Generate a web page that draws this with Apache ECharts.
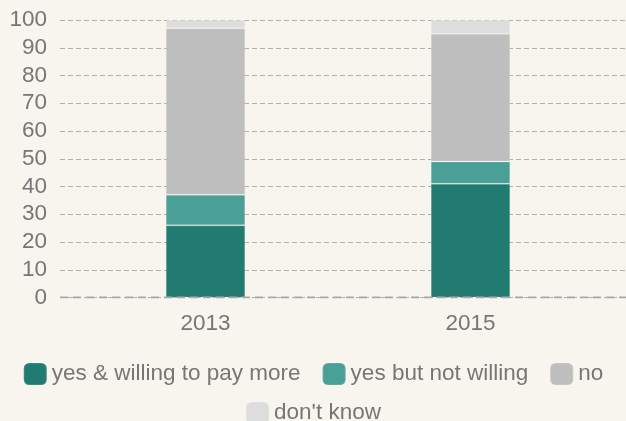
<!DOCTYPE html>
<html><head><meta charset="utf-8">
<script src="https://cdn.jsdelivr.net/npm/echarts@6/dist/echarts.min.js"></script>
<style>html,body{margin:0;padding:0;background:#f7f5ee}#c{width:626px;height:421px}</style>
</head><body><div id="c"></div>
<script>
const categories = ['2013', '2015'];
const yesWilling = [26, 41];
const yesNotWilling = [11, 8];
const no = [60, 46];
const dontKnow = [3, 5];
const seriesNames = ['yes & willing to pay more', 'yes but not willing', 'no', "don't know"];
const colors = ['#217b70', '#4a9f96', '#bebebe', '#dddddd'];

const font = 'Liberation Sans, Arial, sans-serif';
const txt = '#767676';
const fs = 22.5;
const chart = echarts.init(document.getElementById('c'));
const vals = [yesWilling, yesNotWilling, no, dontKnow];
chart.setOption({
  backgroundColor: '#f7f5ee',
  animation: false,
  color: colors,
  grid: [
    {left: 73, right: 23, top: 20, bottom: 123.5},
    {left: 60, right: 0, top: 20, bottom: 123.5}
  ],
  legend: [
    {data: seriesNames.slice(0, 3), left: 'center', top: 357, itemWidth: 23, itemHeight: 22, itemGap: 21,
     icon: 'roundRect', textStyle: {fontFamily: font, fontSize: fs, color: txt, padding: [0, 0, 0, 0]}},
    {data: seriesNames.slice(3), left: 'center', top: 396, itemWidth: 23, itemHeight: 22,
     icon: 'roundRect', textStyle: {fontFamily: font, fontSize: fs, color: txt, padding: [0, 0, 0, 0]}}
  ],
  xAxis: [
    {type: 'category', data: categories, gridIndex: 0,
     axisLine: {show: false}, axisTick: {show: false},
     axisLabel: {fontFamily: font, fontSize: fs, color: txt, margin: 15}},
    {type: 'value', gridIndex: 1, show: false, min: 0, max: 1}
  ],
  yAxis: [
    {type: 'value', gridIndex: 0, min: 0, max: 100, interval: 10,
     axisLine: {show: false}, axisTick: {show: false}, splitLine: {show: false},
     axisLabel: {show: false}},
    {type: 'value', gridIndex: 1, min: 0, max: 100, interval: 10,
     axisLine: {show: false}, axisTick: {show: false},
     axisLabel: {fontFamily: font, fontSize: fs, color: txt, margin: 13},
     splitLine: {lineStyle: {color: '#b0b0b0', type: [5, 3], width: 1.2}}}
  ],
  series: seriesNames.map((n, i) => ({
    name: n, type: 'bar', stack: 'total', data: vals[i], barWidth: '30%',
    xAxisIndex: 0, yAxisIndex: 0,
    itemStyle: {color: colors[i], borderColor: 'rgba(255,255,255,0.12)', borderWidth: 1}
  })).concat([{
    type: 'line', xAxisIndex: 1, yAxisIndex: 1, data: [[0, 0], [1, 0]], symbol: 'none', silent: true,
    lineStyle: {color: '#a8a8a8', type: [8, 5], width: 1.8}, z: 5
  }])
});
</script></body></html>
